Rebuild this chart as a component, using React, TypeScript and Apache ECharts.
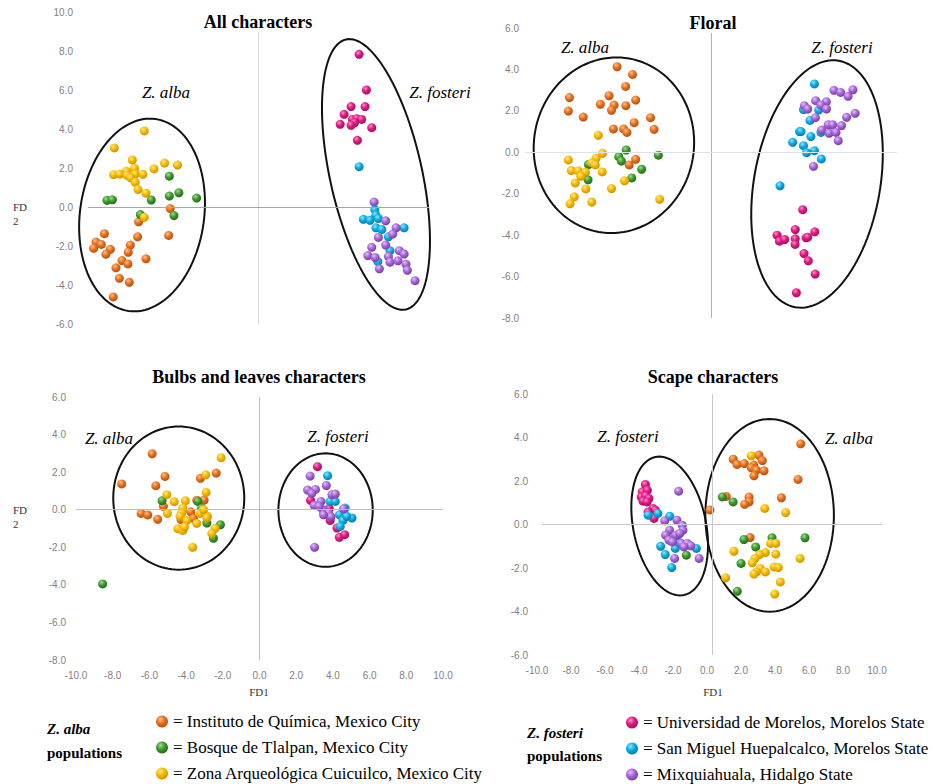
import React, { useEffect, useRef } from "react";
import * as echarts from "echarts";

// ---------- populations ----------
const ALBA_POPS = [
  "Instituto de Química, Mexico City",
  "Bosque de Tlalpan, Mexico City",
  "Zona Arqueológica Cuicuilco, Mexico City",
];
const FOSTERI_POPS = [
  "Universidad de Morelos, Morelos State",
  "San Miguel Huepalcalco, Morelos State",
  "Mixquiahuala, Hidalgo State",
];
const POPS = [...ALBA_POPS, ...FOSTERI_POPS];
// base, light, dark
const POP_COLORS = [
  ["#E8731F", "#FFC08A", "#A9480B"],
  ["#3F9B2F", "#9FE08A", "#1F6215"],
  ["#F6BC00", "#FFE88A", "#C48A00"],
  ["#E01A84", "#FF8CC8", "#9C0A55"],
  ["#0AAFE3", "#8FE6FF", "#0571A0"],
  ["#A867D8", "#E0C0FA", "#6E349E"],
];

// ---------- Panel 1: All characters ----------
const allOrange = [[-5.18,-0.08],[-7.03,-0.76],[-7.09,-1.53],[-5.27,-1.46],[-9.04,-1.37],[-9.53,-1.80],[-9.67,-2.12],[-9.22,-1.92],[-8.69,-2.17],[-8.95,-2.42],[-7.52,-1.95],[-7.64,-2.32],[-6.60,-2.66],[-8.01,-2.75],[-7.66,-2.92],[-8.36,-3.12],[-8.16,-3.66],[-7.58,-3.86],[-8.52,-4.61]];
const allGreen = [[-5.23,1.58],[-8.89,0.34],[-8.57,0.37],[-6.29,0.36],[-5.23,0.56],[-4.67,0.73],[-3.63,0.46],[-6.93,-0.39],[-4.96,-0.44]];
const allYellow = [[-6.70,3.90],[-8.46,3.03],[-7.40,2.41],[-5.51,2.25],[-4.75,2.15],[-6.13,1.95],[-8.50,1.66],[-8.14,1.69],[-7.75,1.83],[-7.70,1.62],[-7.27,1.98],[-7.23,1.69],[-6.78,1.68],[-7.50,1.50],[-7.23,1.27],[-7.07,0.90],[-6.60,0.71],[-6.70,-0.53]];
const allPink = [[5.90,7.83],[6.33,6.00],[5.43,5.15],[6.25,5.15],[5.02,4.75],[5.51,4.49],[5.76,4.53],[6.05,4.49],[5.63,4.32],[4.79,4.24],[5.43,4.19],[6.64,4.07],[5.80,3.42]];
const allCyan = [[5.90,2.07],[6.82,-0.14],[6.88,-0.42],[6.15,-0.63],[6.54,-0.68],[7.03,-0.59],[6.89,-1.07],[7.23,-1.15],[8.54,-1.07],[7.62,-1.53],[7.71,-2.24],[7.00,-2.80]];
const allPurple = [[6.78,0.25],[7.46,-0.71],[8.07,-1.07],[7.87,-1.39],[7.03,-1.56],[7.46,-1.95],[6.64,-2.07],[7.62,-2.54],[8.26,-2.24],[8.54,-2.41],[6.41,-2.49],[6.84,-2.59],[7.71,-2.83],[8.18,-2.76],[8.65,-2.93],[8.73,-3.25],[7.09,-3.17],[9.18,-3.78]];
// ellipses: [centerX, centerY, radiusX, radiusY, tilt°]
const allEllipses = [[-6.83,-0.41,3.64,4.97,8],[6.89,1.67,2.70,7.09,-12.5]];

// ---------- Panel 2: Floral ----------
const floOrange = [[-5.05,4.13],[-4.22,3.76],[-4.59,3.18],[-7.61,2.64],[-5.48,2.73],[-5.95,2.32],[-5.21,2.28],[-4.58,2.25],[-4.05,2.52],[-5.35,2.03],[-7.67,1.99],[-6.87,1.70],[-3.25,1.67],[-4.13,1.43],[-5.25,1.13],[-4.70,1.13],[-4.52,0.96],[-3.06,1.11],[-4.05,-0.34],[-4.40,-0.61]];
const floGreen = [[-4.56,0.11],[-4.96,-0.21],[-4.82,-0.42],[-2.83,-0.14],[-3.73,-0.82],[-4.26,-1.24],[-6.59,-0.59],[-6.61,-1.33]];
const floYellow = [[-6.06,0.82],[-5.83,-0.05],[-7.67,-0.37],[-6.18,-0.29],[-6.41,-0.51],[-6.22,-0.61],[-7.51,-0.88],[-7.14,-0.90],[-6.75,-0.96],[-7.00,-1.16],[-5.85,-0.95],[-7.30,-1.48],[-6.73,-1.77],[-7.35,-2.15],[-7.58,-2.49],[-6.41,-2.40],[-5.35,-1.75],[-4.65,-1.38],[-2.76,-2.27]];
const floPink = [[4.93,-2.77],[4.53,-3.73],[5.58,-3.84],[3.55,-4.00],[3.68,-4.29],[3.96,-4.21],[4.53,-4.18],[4.52,-4.45],[5.11,-4.13],[5.20,-4.10],[5.00,-4.89],[5.23,-5.24],[5.60,-5.88],[4.59,-6.78]];
const floCyan = [[5.56,3.30],[4.97,2.06],[5.79,2.04],[5.32,1.54],[4.76,1.00],[4.84,1.00],[5.37,0.76],[5.91,0.96],[4.39,0.48],[4.97,0.32],[5.56,0.08],[5.14,-0.02],[5.93,-0.32],[3.71,-1.62]];
const floPurple = [[6.61,2.99],[6.97,2.89],[7.37,2.70],[7.63,3.02],[5.63,2.49],[6.20,2.44],[5.91,2.28],[5.02,2.25],[5.20,2.09],[6.21,2.09],[7.75,1.88],[7.29,1.69],[5.61,1.67],[6.30,1.33],[6.54,1.33],[7.02,1.29],[5.95,1.08],[6.35,0.92],[6.72,0.96],[6.84,0.56],[5.51,-0.68]];
const floEllipses = [[-5.22,0.34,4.30,4.25,10],[5.70,-1.53,3.39,6.04,10]];

// ---------- Panel 3: Bulbs and leaves characters ----------
const bulOrange = [[-5.85,2.98],[-5.15,1.77],[-5.65,1.28],[-7.51,1.37],[-2.36,1.95],[-3.22,1.67],[-5.24,0.18],[-6.45,-0.20],[-6.09,-0.28],[-5.55,-0.51],[-3.75,-0.11],[-3.42,0.51],[-3.02,0.51],[-3.60,-0.46],[-4.27,-0.53]];
const bulGreen = [[-5.31,0.48],[-3.36,0.44],[-3.16,0.07],[-2.87,-0.71],[-2.13,-0.80],[-2.51,-1.52],[-8.55,-3.95]];
const bulYellow = [[-2.09,2.77],[-2.93,1.86],[-5.05,0.80],[-2.91,0.92],[-4.65,0.43],[-4.04,0.48],[-4.18,0.09],[-4.24,-0.18],[-4.33,-0.35],[-5.02,-0.20],[-3.24,-0.20],[-2.84,-0.35],[-3.96,-0.57],[-3.42,-0.73],[-4.45,-1.01],[-4.18,-1.10],[-4.09,-0.92],[-2.42,-0.99],[-2.60,-1.26],[-3.64,-2.00],[-3.05,0.00],[-2.87,-0.43]];
const bulPink = [[3.16,2.29],[2.78,0.50],[3.80,0.07],[4.22,-0.98],[4.35,-1.47],[4.64,-1.33],[3.85,-0.57]];
const bulCyan = [[3.71,1.81],[3.85,0.44],[4.13,0.44],[4.67,0.09],[4.36,-0.27],[4.55,-0.57],[5.04,-0.44],[4.40,-0.89],[4.76,-0.35]];
const bulPurple = [[2.76,1.79],[3.64,1.29],[2.62,1.05],[3.05,1.08],[2.85,0.87],[3.35,0.44],[3.95,0.80],[4.13,0.83],[2.98,0.23],[3.45,0.00],[3.76,-0.18],[3.89,-0.37],[4.58,0.05],[3.00,-2.00],[3.25,0.18],[3.49,-0.27]];
const bulEllipses = [[-4.40,0.62,3.57,3.81,0],[3.60,-0.02,2.57,3.02,0]];

// ---------- Panel 4: Scape characters ----------
const scaOrange = [[5.22,3.71],[5.06,2.07],[1.25,3.00],[1.47,2.76],[1.90,2.80],[2.76,3.19],[2.96,2.94],[2.45,2.73],[2.31,2.61],[2.61,2.50],[3.06,2.47],[2.47,2.24],[0.84,1.29],[2.18,1.26],[2.18,1.04],[1.92,0.93],[4.08,1.23],[-0.12,0.67],[2.24,-0.60]];
const scaGreen = [[-1.51,-1.41],[0.61,1.27],[1.24,1.04],[1.88,-0.69],[2.57,-1.03],[3.53,-0.61],[5.47,-0.61],[1.71,-1.79],[1.49,-3.07]];
const scaYellow = [[2.31,3.16],[3.10,0.74],[4.33,0.55],[3.45,-0.87],[3.75,-0.87],[1.29,-1.23],[3.14,-1.29],[2.80,-1.38],[2.53,-1.56],[2.37,-1.76],[3.75,-1.36],[2.84,-2.02],[3.14,-2.18],[2.61,-2.18],[2.47,-2.28],[3.65,-1.95],[3.90,-1.98],[5.18,-1.56],[4.02,-2.64],[3.69,-3.20],[0.80,-2.45]];
const scaPink = [[-3.92,1.84],[-4.10,1.50],[-3.80,1.58],[-4.16,1.27],[-3.90,1.32],[-3.71,1.20],[-4.06,1.07],[-3.82,1.04],[-3.47,0.74],[-3.33,0.66],[-3.76,0.58],[-3.41,0.28]];
const scaCyan = [[-3.76,0.43],[-3.18,0.51],[-2.49,0.38],[-3.02,-1.00],[-2.75,-1.38],[-2.37,-1.98],[-2.20,-0.80],[-2.16,-1.10],[-2.24,-0.57],[-1.90,-0.84],[-0.92,-1.10],[-2.02,-0.49]];
const scaPurple = [[-1.96,1.53],[-2.78,0.17],[-2.06,0.20],[-1.75,-0.03],[-1.71,-0.26],[-2.49,-0.26],[-2.73,-0.49],[-2.14,-0.49],[-2.53,-0.72],[-2.33,-0.80],[-1.80,-0.87],[-1.45,-0.87],[-1.25,-0.98],[-1.65,-1.03],[-2.20,-1.56],[-0.76,-1.56],[-1.90,-0.41]];
const scaEllipses = [[-2.49,-0.07,2.14,3.24,-11.6],[3.39,0.42,3.78,4.43,0]];

// ---------- axis ranges ----------
const X_RANGE = [-10, 10];
const Y_RANGES = [[-6, 10], [-8, 6], [-8, 6], [-6, 6]];
const TICK_STEP = 2;

const PANEL_TITLES = ["All characters", "Floral", "Bulbs and leaves characters", "Scape characters"];
const PANEL_DATA = [
  [allOrange, allGreen, allYellow, allPink, allCyan, allPurple],
  [floOrange, floGreen, floYellow, floPink, floCyan, floPurple],
  [bulOrange, bulGreen, bulYellow, bulPink, bulCyan, bulPurple],
  [scaOrange, scaGreen, scaYellow, scaPink, scaCyan, scaPurple],
];
const PANEL_ELLIPSES = [allEllipses, floEllipses, bulEllipses, scaEllipses];

// ---------- layout (pixels) ----------
const GRIDS = [
  { left: 88, top: 12, width: 341, height: 312 },
  { left: 525, top: 28, width: 372, height: 290 },
  { left: 76, top: 397, width: 367, height: 263 },
  { left: 542, top: 394, width: 340, height: 261 },
];
const Y_LABEL_MARGIN = [15, 6, 10, 14];
const SHOW_X_LABELS = [false, false, true, true];
const ZERO_LINE_COLORS = [
  { v: "#d6d6d6", h: "#a6a6a6" },
  { v: "#a9b1c2", h: "#dde2ea" },
  { v: "#bdbdbd", h: "#bdbdbd" },
  { v: "#c8c8c8", h: "#c8c8c8" },
];

const SERIF = "'Liberation Serif', 'Times New Roman', serif";
const SANS = "'Liberation Sans', Arial, sans-serif";

function ballColor(i: number) {
  const [base, light, dark] = POP_COLORS[i];
  return new echarts.graphic.RadialGradient(0.38, 0.32, 0.75, [
    { offset: 0, color: light },
    { offset: 0.45, color: base },
    { offset: 1, color: dark },
  ]);
}

function ellipseRender(params: any, api: any) {
  const c = api.coord([api.value(0), api.value(1)]);
  const s = api.size([api.value(2), api.value(3)]);
  const th = (api.value(4) * Math.PI) / 180;
  const pts: number[][] = [];
  const n = 120;
  for (let k = 0; k < n; k++) {
    const t = (k / n) * Math.PI * 2;
    const ex = s[0] * Math.cos(t);
    const ey = s[1] * Math.sin(t);
    pts.push([c[0] + ex * Math.cos(th) - ey * Math.sin(th), c[1] + ex * Math.sin(th) + ey * Math.cos(th)]);
  }
  return {
    type: "polygon",
    shape: { points: pts },
    style: { fill: "none", stroke: "#111", lineWidth: 2 },
  };
}

function buildOption() {
  const grid = GRIDS.map((g) => ({ ...g, containLabel: false }));
  const xAxis = GRIDS.map((_, i) => ({
    type: "value",
    gridIndex: i,
    min: X_RANGE[0],
    max: X_RANGE[1],
    interval: TICK_STEP,
    axisLine: { show: false },
    axisTick: { show: false },
    splitLine: { show: false },
    axisLabel: {
      show: SHOW_X_LABELS[i],
      color: "#7f7f7f",
      fontFamily: SANS,
      fontSize: 10,
      margin: 10,
      padding: i === 3 ? [0, 10, 0, 0] : 0,
      formatter: (v: number) => v.toFixed(1),
    },
  }));
  const yAxis = GRIDS.map((_, i) => ({
    type: "value",
    gridIndex: i,
    min: Y_RANGES[i][0],
    max: Y_RANGES[i][1],
    interval: TICK_STEP,
    axisLine: { show: false },
    axisTick: { show: false },
    splitLine: { show: false },
    axisLabel: {
      color: "#7f7f7f",
      fontFamily: SANS,
      fontSize: 10,
      margin: Y_LABEL_MARGIN[i],
      formatter: (v: number) => v.toFixed(1),
    },
  }));

  const series: any[] = [];
  GRIDS.forEach((_, gi) => {
    // zero lines
    series.push({
      type: "scatter",
      xAxisIndex: gi,
      yAxisIndex: gi,
      data: [],
      silent: true,
      z: 1,
      markLine: {
        silent: true,
        symbol: "none",
        label: { show: false },
        animation: false,
        data: [
          { xAxis: 0, lineStyle: { color: ZERO_LINE_COLORS[gi].v, width: 1, type: "solid" } },
          { yAxis: 0, lineStyle: { color: ZERO_LINE_COLORS[gi].h, width: 1, type: "solid" } },
        ],
      },
    });
    // ellipses
    series.push({
      type: "custom",
      xAxisIndex: gi,
      yAxisIndex: gi,
      data: PANEL_ELLIPSES[gi],
      encode: { x: 0, y: 1 },
      renderItem: ellipseRender,
      silent: true,
      clip: false,
      z: 2,
    });
    // populations
    PANEL_DATA[gi].forEach((pts, pi) => {
      series.push({
        name: POPS[pi],
        type: "scatter",
        xAxisIndex: gi,
        yAxisIndex: gi,
        data: pts,
        symbol: "circle",
        symbolSize: 9,
        itemStyle: { color: ballColor(pi), opacity: 1 },
        z: 3,
      });
    });
  });

  const legendText = {
    fontFamily: SERIF,
    fontSize: 17,
    color: "#000",
    lineHeight: 16,
  };
  const legendBase = {
    orient: "vertical",
    height: 100,
    width: 320,
    padding: 0,
    itemWidth: 12,
    itemHeight: 12,
    itemGap: 9,
    icon: "circle",
    selectedMode: false,
    formatter: "= {name}",
    textStyle: legendText,
  };
  const legend = [
    { ...legendBase, data: ALBA_POPS, left: 156, top: 713 },
    { ...legendBase, data: FOSTERI_POPS, left: 626, top: 714 },
  ];

  const txt = (x: number, y: number, text: string, font: string, align = "center", extra: any = {}) => ({
    type: "text",
    x,
    y,
    z: 100,
    style: {
      text,
      font,
      fill: "#000",
      textAlign: align,
      textVerticalAlign: "middle",
      ...extra,
    },
  });
  const titleFont = `bold 18px ${SERIF}`;
  const spFont = `italic 17px ${SERIF}`;
  const fdFont = `11px ${SERIF}`;
  const graphic = [
    txt(258, 22, PANEL_TITLES[0], titleFont, "center", { backgroundColor: "#fff", padding: [1, 4] }),
    txt(713, 23, PANEL_TITLES[1], titleFont, "center", { backgroundColor: "#fff", padding: [1, 4] }),
    txt(259, 377, PANEL_TITLES[2], titleFont),
    txt(713, 377, PANEL_TITLES[3], titleFont),
    txt(166, 92, "Z. alba", spFont),
    txt(440, 92, "Z. fosteri", spFont),
    txt(585, 47, "Z. alba", spFont),
    txt(842, 47, "Z. fosteri", spFont),
    txt(109, 438, "Z. alba", spFont),
    txt(338, 436, "Z. fosteri", spFont),
    txt(628, 436, "Z. fosteri", spFont),
    txt(849, 438, "Z. alba", spFont),
    txt(13, 207, "FD", fdFont, "left", { fill: "#333" }),
    txt(13, 221, "2", fdFont, "left", { fill: "#333" }),
    txt(13, 510, "FD", fdFont, "left", { fill: "#333" }),
    txt(13, 524, "2", fdFont, "left", { fill: "#333" }),
    txt(259, 692, "FD1", fdFont, "center", { fill: "#333" }),
    txt(713, 692, "FD1", fdFont, "center", { fill: "#333" }),
    txt(47, 729, "Z. alba", `bold italic 15px ${SERIF}`, "left"),
    txt(47, 753, "populations", `bold 15px ${SERIF}`, "left"),
    txt(527, 733, "Z. fosteri", `bold italic 15px ${SERIF}`, "left"),
    txt(527, 756, "populations", `bold 15px ${SERIF}`, "left"),
  ];

  return {
    animation: false,
    backgroundColor: "#ffffff",
    grid,
    xAxis,
    yAxis,
    legend,
    series,
    graphic,
  };
}

export default function App() {
  const ref = useRef<HTMLDivElement>(null);
  useEffect(() => {
    if (!ref.current) return;
    const chart = echarts.init(ref.current, undefined, { renderer: "svg" });
    chart.setOption(buildOption() as any);
    return () => chart.dispose();
  }, []);
  return (
    <div
      ref={ref}
      style={{ position: "absolute", left: 0, top: 0, width: 933, height: 784 }}
    />
  );
}
